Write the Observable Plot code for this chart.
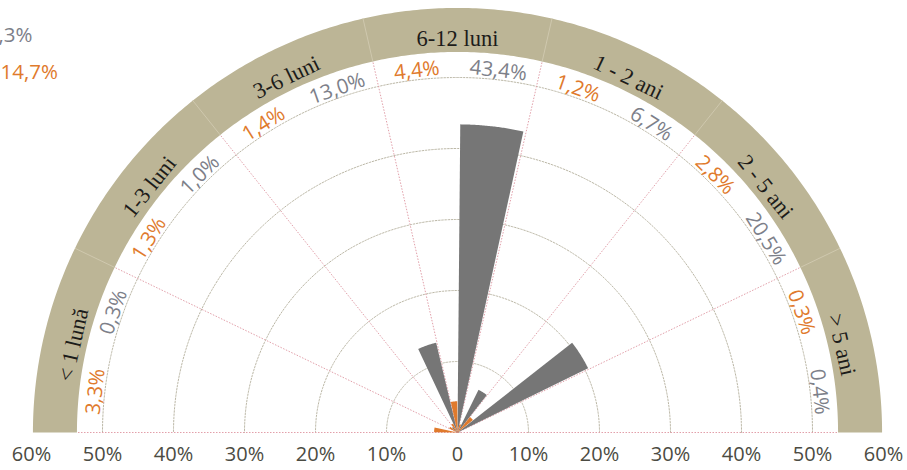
<!DOCTYPE html>
<html>
<head>
<meta charset="utf-8">
<script src="https://cdn.jsdelivr.net/npm/d3@7"></script>
<script src="https://cdn.jsdelivr.net/npm/@observablehq/plot@0.6"></script>
<style>
  html, body { margin: 0; padding: 0; background: #fff; overflow: hidden; }
</style>
</head>
<body>
<div id="chart"></div>
<script>
// ---- data ----
const categories = ["< 1 lună", "1-3 luni", "3-6 luni", "6-12 luni", "1 - 2 ani", "2 - 5 ani", "> 5 ani"];
const grayValues = [0.3, 1.0, 13.0, 43.4, 6.7, 20.5, 0.4];
const orangeValues = [3.3, 1.3, 1.4, 4.4, 1.2, 2.8, 0.3];
const xTicks = [-60, -50, -40, -30, -20, -10, 0, 10, 20, 30, 40, 50, 60];
const gridRadii = [10, 20, 30, 40, 50];
const cornerGray = "4,3%";
const cornerOrange = "14,7%";

// ---- geometry helpers (in data units: percent) ----
const N = categories.length;
const S = 180 / N;
const rad = d => d * Math.PI / 180;
const ang = (i, f) => 180 - (i + f) * S;
const px = (r, a) => r * Math.cos(rad(a));
const py = (r, a) => r * Math.sin(rad(a));
const BAND_IN = 53.6, BAND_OUT = 59.8;
const fmt = v => d3.format(".1f")(v).replace(".", ",") + "%";

function arcPts(r, a0, a1, step = 0.5) {
  const n = Math.max(2, Math.ceil(Math.abs(a1 - a0) / step));
  return d3.range(n + 1).map(k => a0 + (a1 - a0) * k / n).map(a => [px(r, a), py(r, a)]);
}

// band polygon
const bandPts = [...arcPts(BAND_OUT, 0, 180), ...arcPts(BAND_IN, 180, 0)].map(([x, y]) => ({x, y}));

// grid arcs
const gridPts = gridRadii.flatMap(r => arcPts(r, 0, 180).map(([x, y]) => ({r, x, y})));

// sector boundaries
const bounds = d3.range(N + 1).map(k => 180 - k * S);

// wedges
const PAD = 0.02;
function wedges(values, half) {
  return values.flatMap((v, i) => {
    const a0 = ang(i, half * 0.5 + PAD), a1 = ang(i, half * 0.5 + 0.5 - PAD);
    const pts = [[0, 0], ...arcPts(v, a0, a1, 0.25), [0, 0]];
    return pts.map(([x, y]) => ({id: i, x, y}));
  });
}
const orangeWedges = wedges(orangeValues, 0);
const grayWedges = wedges(grayValues, 1);

// labels
const LAB_R = 51.3, CAT_R = 55.5;
const valueLabels = [
  ...orangeValues.map((v, i) => ({t: fmt(v), a: ang(i, 0.25), c: "#e07a2c"})),
  ...grayValues.map((v, i) => ({t: fmt(v), a: ang(i, 0.75), c: "#7d8089"}))
];
const catLabels = categories.map((c, i) => ({t: c, a: ang(i, 0.5)}));

const chart = Plot.plot({
  width: 907,
  height: 470,
  marginLeft: 31,
  marginRight: 24,
  marginTop: 6,
  marginBottom: 38,
  x: {domain: [-60, 60], range: [31, 883], ticks: xTicks, tickSize: 0, tickPadding: 14,
      tickFormat: d => d === 0 ? "0" : Math.abs(d) + "%", label: null},
  y: {domain: [0, 60], range: [432, 6], axis: null},
  style: {fontFamily: "Open Sans", fontSize: "20px", color: "#4b4b42", background: "#fff", overflow: "visible"},
  marks: [
    Plot.line(bandPts, {x: "x", y: "y", fill: "#bcb596", stroke: "none"}),
    Plot.link(bounds.slice(1, -1), {
      x1: a => px(BAND_IN, a), y1: a => py(BAND_IN, a),
      x2: a => px(BAND_OUT, a), y2: a => py(BAND_OUT, a),
      stroke: "#cfc8ae", strokeWidth: 1
    }),
    Plot.line(gridPts, {x: "x", y: "y", z: "r", stroke: "#b3af9c", strokeWidth: 0.9, strokeDasharray: "1.6,1.6"}),
    Plot.link(bounds, {
      x1: 0, y1: 0,
      x2: a => px(BAND_IN, a), y2: a => py(BAND_IN, a),
      stroke: "#e2a0aa", strokeWidth: 1, strokeDasharray: "1.5,1.5"
    }),
    Plot.line(grayWedges, {x: "x", y: "y", z: "id", fill: "#767676", stroke: "none"}),
    Plot.line(orangeWedges, {x: "x", y: "y", z: "id", fill: "#e07a2c", stroke: "none"}),
    Plot.text(valueLabels, {
      x: d => px(LAB_R, d.a), y: d => py(LAB_R, d.a), text: "t",
      rotate: d => 90 - d.a, fill: d => d.c, fontSize: 20.5, fontFamily: "Open Sans"
    }),
    Plot.text(catLabels, {
      x: d => px(CAT_R, d.a), y: d => py(CAT_R, d.a), text: "t",
      rotate: d => 90 - d.a, fill: "#1c1c1a", fontSize: 22.5, fontFamily: "Liberation Serif"
    }),
    Plot.text([cornerGray], {frameAnchor: "top-left", text: d => d, textAnchor: "end", lineAnchor: "middle",
      dx: 1, dy: 29, fill: "#7d8089", fontSize: 20.5}),
    Plot.text([cornerOrange], {frameAnchor: "top-left", text: d => d, textAnchor: "start", lineAnchor: "middle",
      dx: -31, dy: 66, fill: "#e07a2c", fontSize: 20.5})
  ]
});
document.getElementById("chart").appendChild(chart);
</script>
</body>
</html>
